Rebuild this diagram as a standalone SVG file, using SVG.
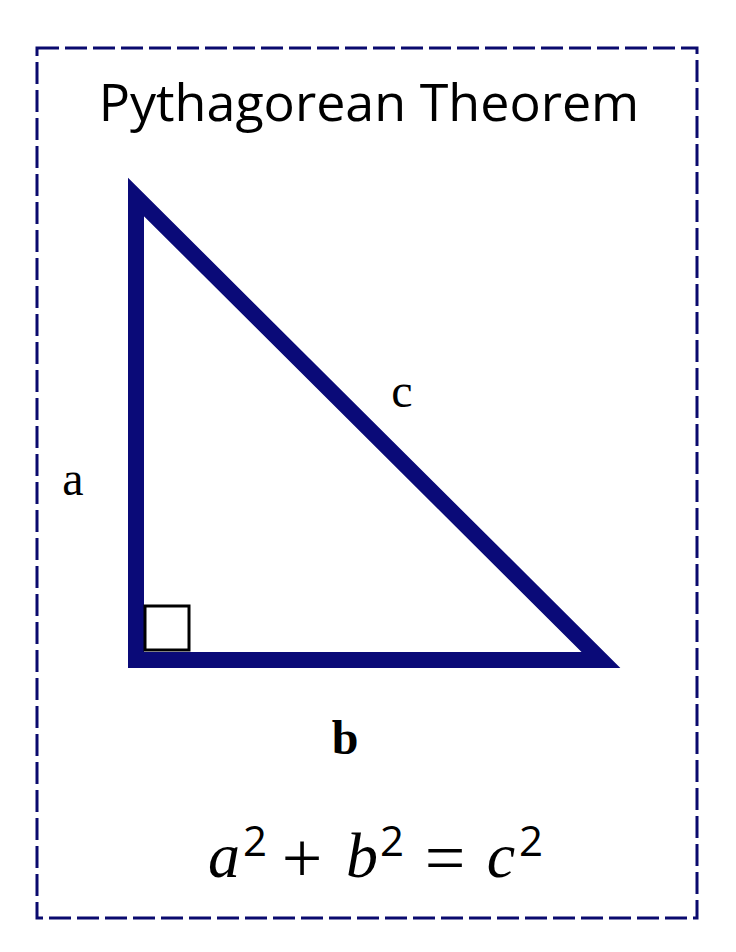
<svg xmlns="http://www.w3.org/2000/svg" width="736" height="952" viewBox="0 0 736 952">
<style>
.frame{fill:none;stroke:#0a0a6e;stroke-width:3;stroke-dasharray:22 6}
.tri{fill:none;stroke:#0a0a78;stroke-width:16;stroke-linejoin:miter;stroke-miterlimit:10}
.sq{fill:none;stroke:#000;stroke-width:3}
.lbl{font-family:"Liberation Serif",serif;font-size:48px;fill:#000}
.title{font-family:"Open Sans","Noto Sans",sans-serif;font-size:52px;fill:#000}
.eq{font-family:"Liberation Serif",serif;font-size:64px;fill:#000;text-anchor:middle}
.v{font-style:italic}
.sup{font-family:"Open Sans",sans-serif;font-size:42px}
.op{font-family:"Liberation Serif",serif;font-size:72px}
</style>
<rect width="736" height="952" fill="#fff"/>
<rect id="frame" class="frame" x="37" y="48" width="660" height="870"/>
<g id="title"><text class="title" x="369" y="121" text-anchor="middle">Pythagorean Theorem</text></g>
<g id="triangle">
<polygon class="tri" points="136,197 136,660 601,660"/>
<rect class="sq" x="145" y="606" width="44" height="44"/>
</g>
<g id="label-a"><text class="lbl" x="73" y="495" text-anchor="middle">a</text></g>
<g id="label-c"><text class="lbl" x="402" y="407" text-anchor="middle">c</text></g>
<g id="label-b"><text class="lbl" x="345" y="754" text-anchor="middle" font-weight="bold">b</text></g>
<g id="equation" class="eq">
<text x="224" y="877" class="v">a</text>
<text x="255" y="856" class="sup">2</text>
<text x="302" y="882" class="op">+</text>
<text x="362" y="877" class="v">b</text>
<text x="392" y="856" class="sup">2</text>
<text x="445" y="882" class="op">=</text>
<text x="501" y="877" class="v">c</text>
<text x="531" y="856" class="sup">2</text>
</g>
</svg>
